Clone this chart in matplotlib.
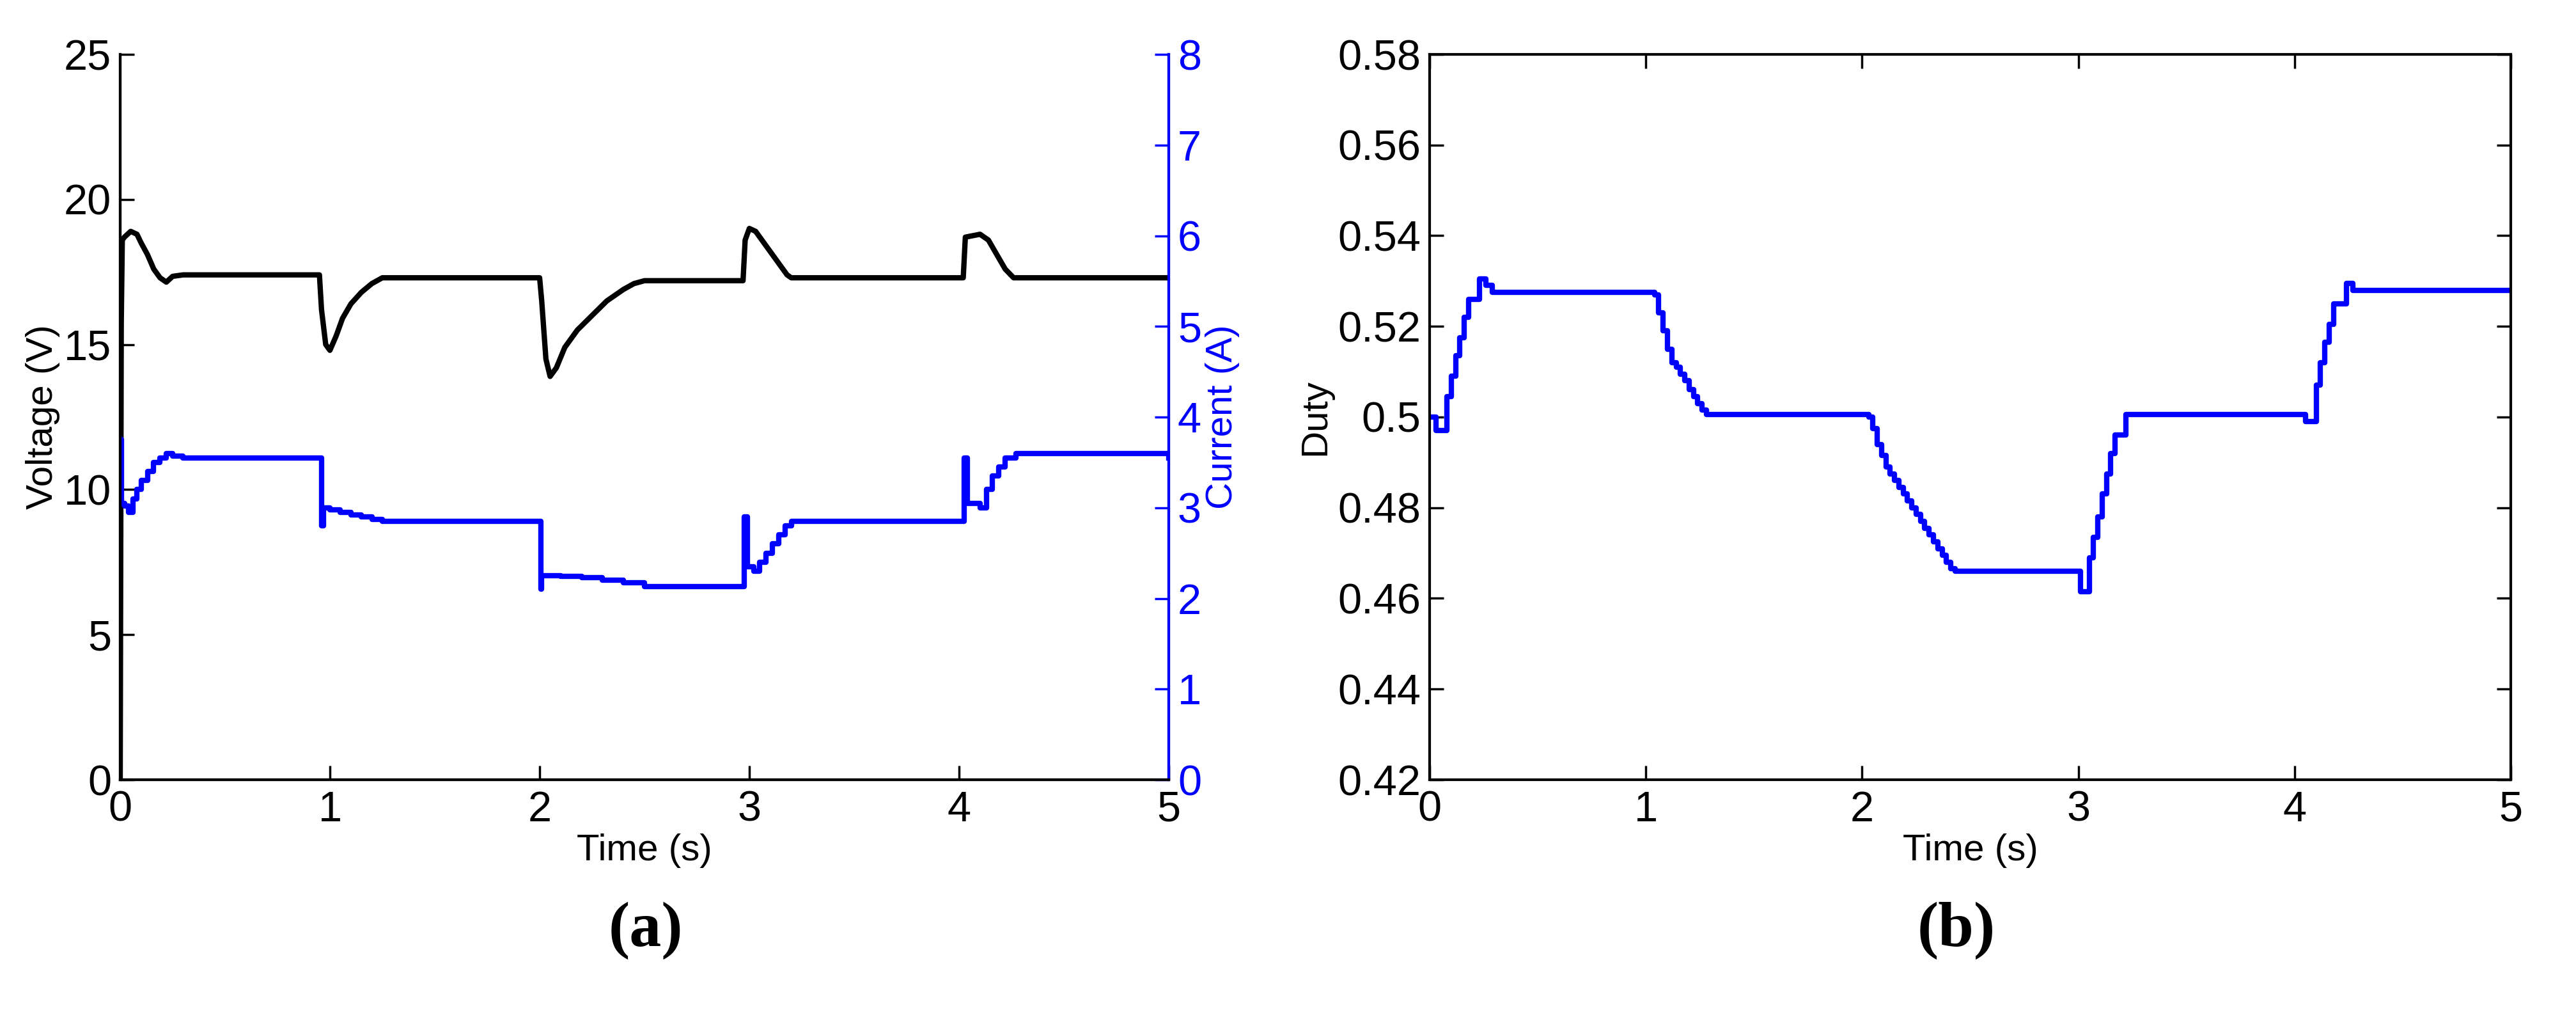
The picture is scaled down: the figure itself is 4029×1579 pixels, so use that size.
import matplotlib
matplotlib.use("Agg")
import matplotlib.pyplot as plt
from matplotlib import font_manager

names = {f.name for f in font_manager.fontManager.ttflist}
fam = ["Liberation Sans Narrow", "Liberation Sans", "DejaVu Sans"]
fam = [f for f in fam if f in names] or ["DejaVu Sans"]
plt.rcParams['font.family'] = fam

# Voltage (V)
v_t = [0, 0.005, 0.01, 0.02, 0.05, 0.08, 0.10, 0.13, 0.16, 0.19, 0.22, 0.25, 0.3, 0.95, 0.96, 0.98, 1.00, 1.03, 1.06, 1.10, 1.15, 1.20, 1.25, 2.0, 2.01, 2.03, 2.05, 2.08, 2.12, 2.18, 2.25, 2.32, 2.40, 2.45, 2.50, 2.97, 2.98, 3.00, 3.03, 3.06, 3.10, 3.14, 3.18, 3.20, 4.02, 4.03, 4.10, 4.14, 4.18, 4.22, 4.26, 4.30, 5.0]
v_y = [0, 15.7, 18.6, 18.7, 18.9, 18.8, 18.5, 18.1, 17.6, 17.3, 17.15, 17.35, 17.4, 17.4, 16.2, 15.0, 14.8, 15.3, 15.9, 16.4, 16.8, 17.1, 17.3, 17.3, 16.5, 14.5, 13.9, 14.2, 14.9, 15.5, 16.0, 16.5, 16.9, 17.1, 17.2, 17.2, 18.6, 19.0, 18.9, 18.6, 18.2, 17.8, 17.4, 17.3, 17.3, 18.7, 18.8, 18.6, 18.1, 17.6, 17.3, 17.3, 17.3]
# Current (A)
i_t = [0, 0.005, 0.02, 0.04, 0.06, 0.08, 0.10, 0.13, 0.16, 0.19, 0.22, 0.25, 0.3, 0.95, 0.96, 0.97, 1.00, 1.05, 1.10, 1.15, 1.20, 1.25, 2.0, 2.005, 2.01, 2.10, 2.20, 2.30, 2.40, 2.50, 2.97, 2.975, 2.99, 3.02, 3.05, 3.08, 3.11, 3.14, 3.17, 3.20, 4.02, 4.025, 4.04, 4.08, 4.10, 4.13, 4.16, 4.19, 4.22, 4.27, 5.0]
i_y = [3.75, 3.05, 3.02, 2.95, 3.1, 3.2, 3.3, 3.4, 3.5, 3.55, 3.6, 3.57, 3.55, 3.55, 2.8, 3.0, 2.98, 2.95, 2.92, 2.9, 2.87, 2.85, 2.85, 2.1, 2.25, 2.24, 2.23, 2.2, 2.17, 2.13, 2.13, 2.9, 2.35, 2.3, 2.4, 2.5, 2.6, 2.7, 2.8, 2.85, 2.85, 3.55, 3.05, 3.05, 3.0, 3.2, 3.35, 3.45, 3.55, 3.6, 3.55]
# Duty
d_t = [0, 0.03, 0.08, 0.10, 0.12, 0.14, 0.16, 0.18, 0.20, 0.23, 0.26, 0.29, 1.02, 1.04, 1.06, 1.08, 1.10, 1.12, 1.14, 1.16, 1.18, 1.20, 1.22, 1.24, 1.26, 1.28, 2.03, 2.05, 2.07, 2.09, 2.11, 2.13, 2.15, 2.17, 2.19, 2.21, 2.23, 2.25, 2.27, 2.29, 2.31, 2.33, 2.35, 2.37, 2.39, 2.41, 2.43, 2.45, 2.47, 2.50, 3.01, 3.05, 3.07, 3.09, 3.11, 3.13, 3.15, 3.17, 3.19, 3.22, 4.05, 4.10, 4.12, 4.14, 4.16, 4.18, 4.20, 4.24, 4.27, 5.0]
d_y = [0.5, 0.497, 0.5045, 0.509, 0.5135, 0.5175, 0.522, 0.526, 0.526, 0.5305, 0.529, 0.5275, 0.5275, 0.527, 0.523, 0.519, 0.515, 0.512, 0.511, 0.5095, 0.508, 0.506, 0.5045, 0.503, 0.5015, 0.5005, 0.5, 0.4975, 0.494, 0.4915, 0.489, 0.4875, 0.486, 0.4845, 0.483, 0.4815, 0.48, 0.4785, 0.477, 0.4755, 0.474, 0.4725, 0.471, 0.4695, 0.468, 0.4665, 0.466, 0.466, 0.466, 0.466, 0.4615, 0.469, 0.4735, 0.478, 0.483, 0.4875, 0.492, 0.496, 0.496, 0.5005, 0.499, 0.507, 0.512, 0.5165, 0.5205, 0.525, 0.525, 0.5295, 0.528, 0.528]

fig = plt.figure(figsize=(40.3, 15.79), dpi=100)
W, H = 4030, 1579
fs = 48
lfs = 42

ax1 = fig.add_axes([188/W, 1 - 1219/H, (1828-188)/W, (1219-85)/H])
ax1.plot(v_t, v_y, color='black', lw=6)
ax1.set_xlim(0, 5); ax1.set_ylim(0, 25)
ax1.set_xticks(range(6)); ax1.set_yticks([0, 5, 10, 15, 20, 25])
ax1.set_xlabel("Time (s)", fontsize=lfs, labelpad=4)
ax1.set_ylabel("Voltage (V)", fontsize=lfs, labelpad=4)
ax2 = ax1.twinx()
ax2.plot(i_t, i_y, color='blue', lw=6, drawstyle='steps-post')
ax2.set_ylim(0, 8); ax2.set_yticks(range(9))
ax2.set_ylabel("Current (A)", fontsize=lfs, color='blue', labelpad=4)
ax2.tick_params(axis='y', colors='blue', labelsize=fs, direction='in', length=16, width=2.5, pad=10)
for ax in (ax1, ax2):
    for s in ax.spines.values():
        s.set_linewidth(3)
ax2.spines['right'].set_color('blue')
ax1.spines['top'].set_visible(False); ax2.spines['top'].set_visible(False)
ax1.tick_params(axis='y', labelsize=fs, direction='in', length=16, width=2.5, pad=10)
ax1.tick_params(axis='x', labelsize=fs, direction='in', length=16, width=2.5, top=False, pad=12)

ax3 = fig.add_axes([2236/W, 1 - 1219/H, (3927-2236)/W, (1219-85)/H])
ax3.plot(d_t, d_y, color='blue', lw=6, drawstyle='steps-post')
ax3.set_xlim(0, 5); ax3.set_ylim(0.42, 0.58)
ax3.set_xticks(range(6))
yt = [0.42, 0.44, 0.46, 0.48, 0.5, 0.52, 0.54, 0.56, 0.58]
ax3.set_yticks(yt); ax3.set_yticklabels([f"{v:g}" for v in yt])
ax3.tick_params(axis='y', labelsize=fs, direction='in', length=16, width=2.5, right=True, pad=10)
ax3.tick_params(axis='x', labelsize=fs, direction='in', length=16, width=2.5, top=True, pad=12)
for s in ax3.spines.values():
    s.set_linewidth(3)
ax3.set_xlabel("Time (s)", fontsize=lfs, labelpad=4)
ax3.set_ylabel("Duty", fontsize=lfs, labelpad=6)

sf = ["Liberation Serif", "DejaVu Serif"]
y0 = 1 - 1455/H
fig.text(1010/W, y0, "(a)", fontsize=72, family=sf, weight='bold', ha='center', va='center')
fig.text(3060/W, y0, "(b)", fontsize=72, family=sf, weight='bold', ha='center', va='center')

fig.savefig("out.png", dpi=100)
